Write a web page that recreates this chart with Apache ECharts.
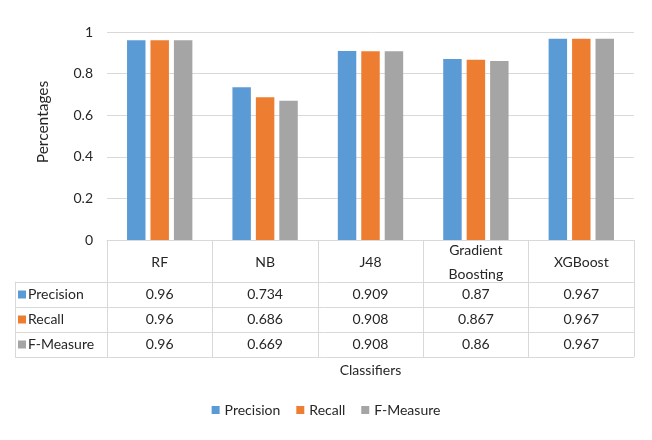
<!DOCTYPE html>
<html><head><meta charset="utf-8">
<script src="https://cdn.jsdelivr.net/npm/echarts@6/dist/echarts.min.js"></script>
<style>html,body{margin:0;padding:0;background:#fff}#c{width:652px;height:440px}</style>
</head><body><div id="c"></div>
<script>
const categories = ['RF', 'NB', 'J48', 'Gradient\nBoosting', 'XGBoost'];
const seriesNames = ['Precision', 'Recall', 'F-Measure'];
const precision = [0.96, 0.734, 0.909, 0.87, 0.967];
const recall = [0.96, 0.686, 0.908, 0.867, 0.967];
const fMeasure = [0.96, 0.669, 0.908, 0.86, 0.967];
const colors = ['#5B9BD5', '#ED7D31', '#A5A5A5'];

const values = [precision, recall, fMeasure];
const FONT = 'Lato';
const FS = 14;
const lineColor = '#D9D9D9';
const textColor = '#262626';

const chart = echarts.init(document.getElementById('c'));

function rowAxis(idx, offset, margin) {
  return {
    type: 'category', gridIndex: 0, position: 'bottom', data: categories,
    offset: offset,
    axisLine: { show: false }, axisTick: { show: false },
    axisLabel: {
      interval: 0, margin: margin, verticalAlign: 'middle',
      fontFamily: FONT, fontSize: FS, color: textColor,
      formatter: (v, i) => String(values[idx][i])
    }
  };
}

chart.setOption({
  animation: false,
  color: colors,
  textStyle: { fontFamily: FONT },
  legend: {
    data: seriesNames, bottom: 18, left: 'center',
    icon: 'rect', itemWidth: 8, itemHeight: 8, itemGap: 16,
    textStyle: { fontFamily: FONT, fontSize: FS, color: textColor }
  },
  grid: [
    { left: 107, right: 18, top: 32, height: 208 },
    { left: 15, right: 18, top: 282, height: 75 }
  ],
  xAxis: [
    {
      type: 'category', gridIndex: 0, position: 'bottom', data: categories,
      axisLine: { lineStyle: { color: lineColor } },
      axisTick: { show: true, length: 117, lineStyle: { color: lineColor } },
      axisLabel: { interval: 0, margin: 22, verticalAlign: 'middle', fontFamily: FONT, fontSize: FS, color: textColor, lineHeight: 24 },
      name: 'Classifiers', nameLocation: 'middle', nameGap: 123,
      nameTextStyle: { fontFamily: FONT, fontSize: FS, color: textColor }
    },
    rowAxis(0, 42, 12.5),
    rowAxis(1, 67, 12.5),
    rowAxis(2, 92, 12.5),
    { type: 'value', gridIndex: 1, show: false }
  ],
  yAxis: [
    {
      type: 'value', gridIndex: 0, min: 0, max: 1, interval: 0.2,
      axisLine: { show: false }, axisTick: { show: false },
      axisLabel: { fontFamily: FONT, fontSize: FS, color: textColor, margin: 14 },
      splitLine: { lineStyle: { color: lineColor } },
      name: 'Percentages', nameLocation: 'middle', nameGap: 56, nameRotate: 90,
      nameTextStyle: { fontFamily: FONT, fontSize: 15.5, color: textColor, padding: [0, 0, 0, 28] }
    },
    {
      type: 'category', gridIndex: 1, data: seriesNames, inverse: true,
      axisLine: { show: true, lineStyle: { color: lineColor } },
      axisTick: { show: false },
      splitLine: { show: true, lineStyle: { color: lineColor } },
      axisLabel: {
        inside: true, margin: 3, fontFamily: FONT, fontSize: FS, color: textColor,
        formatter: (v, i) => '{s' + i + '|}{t|' + v + '}',
        rich: {
          s0: { width: 8, height: 8, backgroundColor: colors[0] },
          s1: { width: 8, height: 8, backgroundColor: colors[1] },
          s2: { width: 8, height: 8, backgroundColor: colors[2] },
          t: { padding: [0, 0, 0, 2], fontFamily: FONT, fontSize: FS, color: textColor }
        }
      }
    }
  ],
  series: seriesNames.map((n, k) => ({
    name: n, type: 'bar', xAxisIndex: 0, yAxisIndex: 0,
    data: values[k], barGap: '27%', barCategoryGap: '38%'
  }))
});
</script></body></html>
